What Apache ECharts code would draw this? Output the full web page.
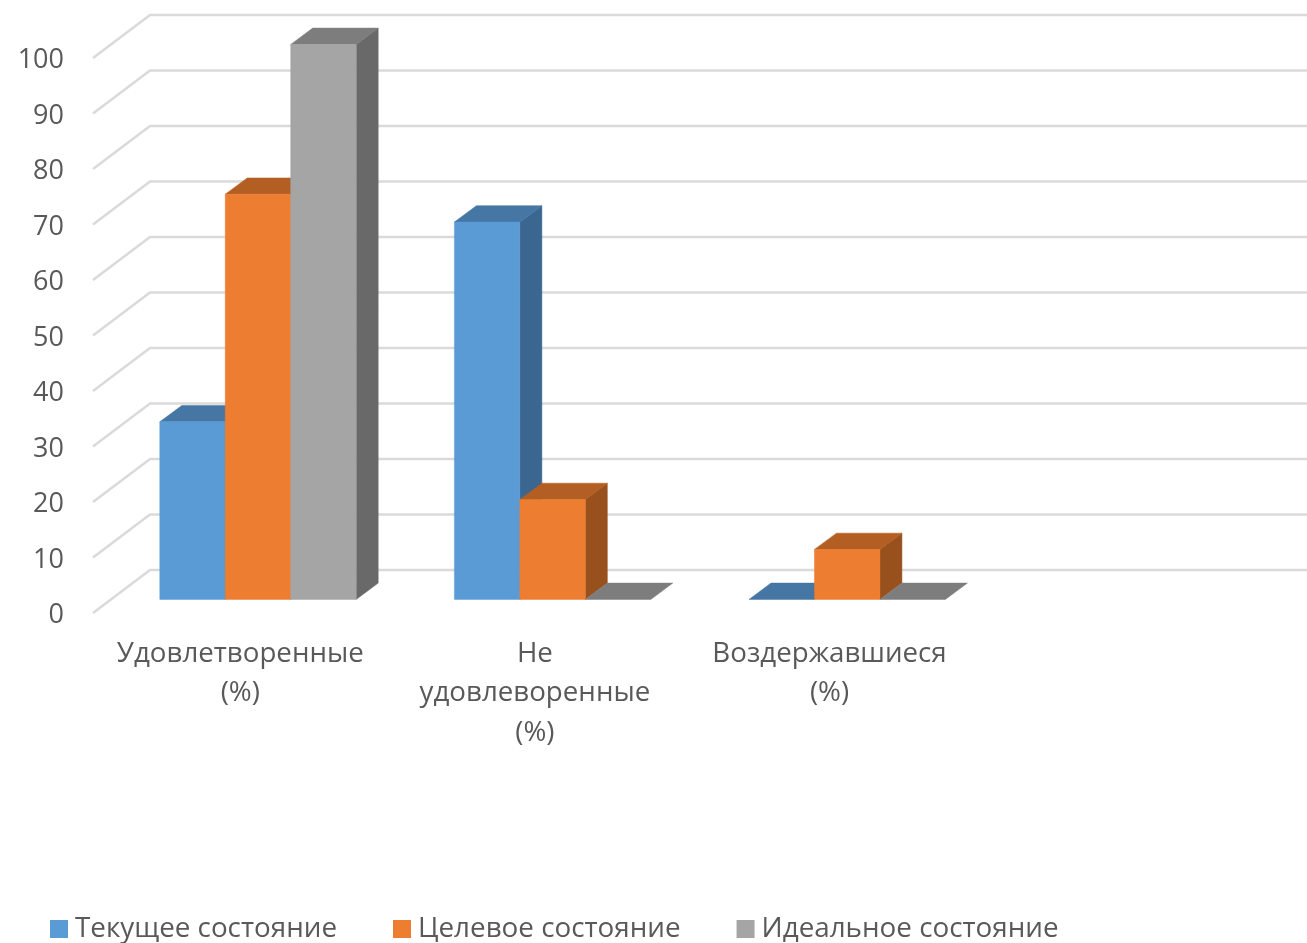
<!DOCTYPE html>
<html>
<head>
<meta charset="utf-8">
<title>Состояние</title>
<style>
  html, body { margin: 0; padding: 0; background: #fff; overflow: hidden; }
  #chart { width: 1307px; height: 943px; }
</style>
<script src="https://cdn.jsdelivr.net/npm/echarts@6/dist/echarts.min.js"></script>
</head>
<body>
<div id="chart"></div>
<script>
// Category and value tables
const categories = ['Удовлетворенные\n(%)', 'Не\nудовлеворенные\n(%)', 'Воздержавшиеся\n(%)', ''];
const currentState = [32, 68, 0];
const targetState = [73, 18, 9];
const idealState = [100, 0, 0];
const yTicks = [0, 10, 20, 30, 40, 50, 60, 70, 80, 90, 100];

// Pseudo-3D projection: the depth of the floor and the depth of one bar, in pixels
const WALL_DX = 57, WALL_DY = 43;
const BAR_SHIFT_X = 17.7, BAR_SHIFT_Y = 13.6;
const BAR_DX = 22, BAR_DY = 16.3;
const BARS_IN_BAND = 4.5;

const TEXT_FONT = '"Open Sans"';
const TEXT_COLOR = '#595959';

function barSeries(name, values, index, colors) {
  return {
    type: 'custom',
    name: name,
    itemStyle: { color: colors.front },
    data: values.map((v, i) => [i, v]),
    encode: { x: 0, y: 1 },
    z: 3 + index,
    renderItem(params, api) {
      const base = api.coord([api.value(0), 0]);
      const top = api.coord([api.value(0), api.value(1)]);
      const w = api.size([1, 0])[0] / BARS_IN_BAND;
      const x0 = base[0] + BAR_SHIFT_X + (index - 1.5) * w;
      const x1 = x0 + w;
      const yb = base[1] - BAR_SHIFT_Y;
      const yt = top[1] - BAR_SHIFT_Y;
      const face = (points, fill) => ({
        type: 'polygon',
        shape: { points },
        style: { fill, stroke: fill, lineWidth: 0.5 }
      });
      const children = [];
      if (yb - yt > 0.01) {
        children.push(face([[x1, yb], [x1 + BAR_DX, yb - BAR_DY], [x1 + BAR_DX, yt - BAR_DY], [x1, yt]], colors.side));
      }
      children.push(face([[x0, yt], [x0 + BAR_DX, yt - BAR_DY], [x1 + BAR_DX, yt - BAR_DY], [x1, yt]], colors.top));
      if (yb - yt > 0.01) {
        children.push(face([[x0, yb], [x0, yt], [x1, yt], [x1, yb]], colors.front));
      }
      return { type: 'group', children };
    }
  };
}

const wallSeries = {
  type: 'custom',
  name: 'wall',
  silent: true,
  data: yTicks.map(v => [0, v]),
  encode: { x: 0, y: 1 },
  z: 1,
  renderItem(params, api) {
    const y = api.coord([0, api.value(1)])[1];
    const left = params.coordSys.x;
    const right = left + params.coordSys.width;
    return {
      type: 'polyline',
      shape: { points: [[left, y], [left + WALL_DX, y - WALL_DY], [right + WALL_DX, y - WALL_DY]] },
      style: { fill: 'none', stroke: '#DADADA', lineWidth: 2.5 }
    };
  }
};

const chart = echarts.init(document.getElementById('chart'), null, { renderer: 'canvas' });
chart.setOption({
  animation: false,
  backgroundColor: '#ffffff',
  grid: { left: 93, top: 58, width: 1178.4, height: 555 },
  xAxis: {
    type: 'category',
    data: categories,
    axisLine: { show: false },
    axisTick: { show: false },
    axisLabel: {
      interval: 0,
      margin: 21,
      color: TEXT_COLOR,
      fontFamily: TEXT_FONT,
      fontSize: 27.7,
      lineHeight: 39.5,
      verticalAlign: 'top'
    }
  },
  yAxis: {
    type: 'value',
    min: 0,
    max: 100,
    interval: 10,
    axisLine: { show: false },
    axisTick: { show: false },
    splitLine: { show: false },
    axisLabel: {
      margin: 29,
      color: TEXT_COLOR,
      fontFamily: TEXT_FONT,
      fontSize: 27,
      verticalAlign: 'top',
      lineHeight: 5
    }
  },
  legend: {
    left: 50,
    top: 915,
    padding: 0,
    icon: 'rect',
    itemWidth: 18,
    itemHeight: 18,
    itemGap: 56,
    selectedMode: false,
    data: ['Текущее состояние', 'Целевое состояние', 'Идеальное состояние'],
    textStyle: { color: TEXT_COLOR, fontFamily: TEXT_FONT, fontSize: 27.8, padding: [0, 0, 0, 2] }
  },
  series: [
    wallSeries,
    barSeries('Текущее состояние', currentState, 0, { front: '#5B9BD5', top: '#4676A3', side: '#3A6690' }),
    barSeries('Целевое состояние', targetState, 1, { front: '#ED7D31', top: '#B35E22', side: '#98501C' }),
    barSeries('Идеальное состояние', idealState, 2, { front: '#A5A5A5', top: '#7D7D7D', side: '#696969' })
  ]
});
</script>
</body>
</html>
